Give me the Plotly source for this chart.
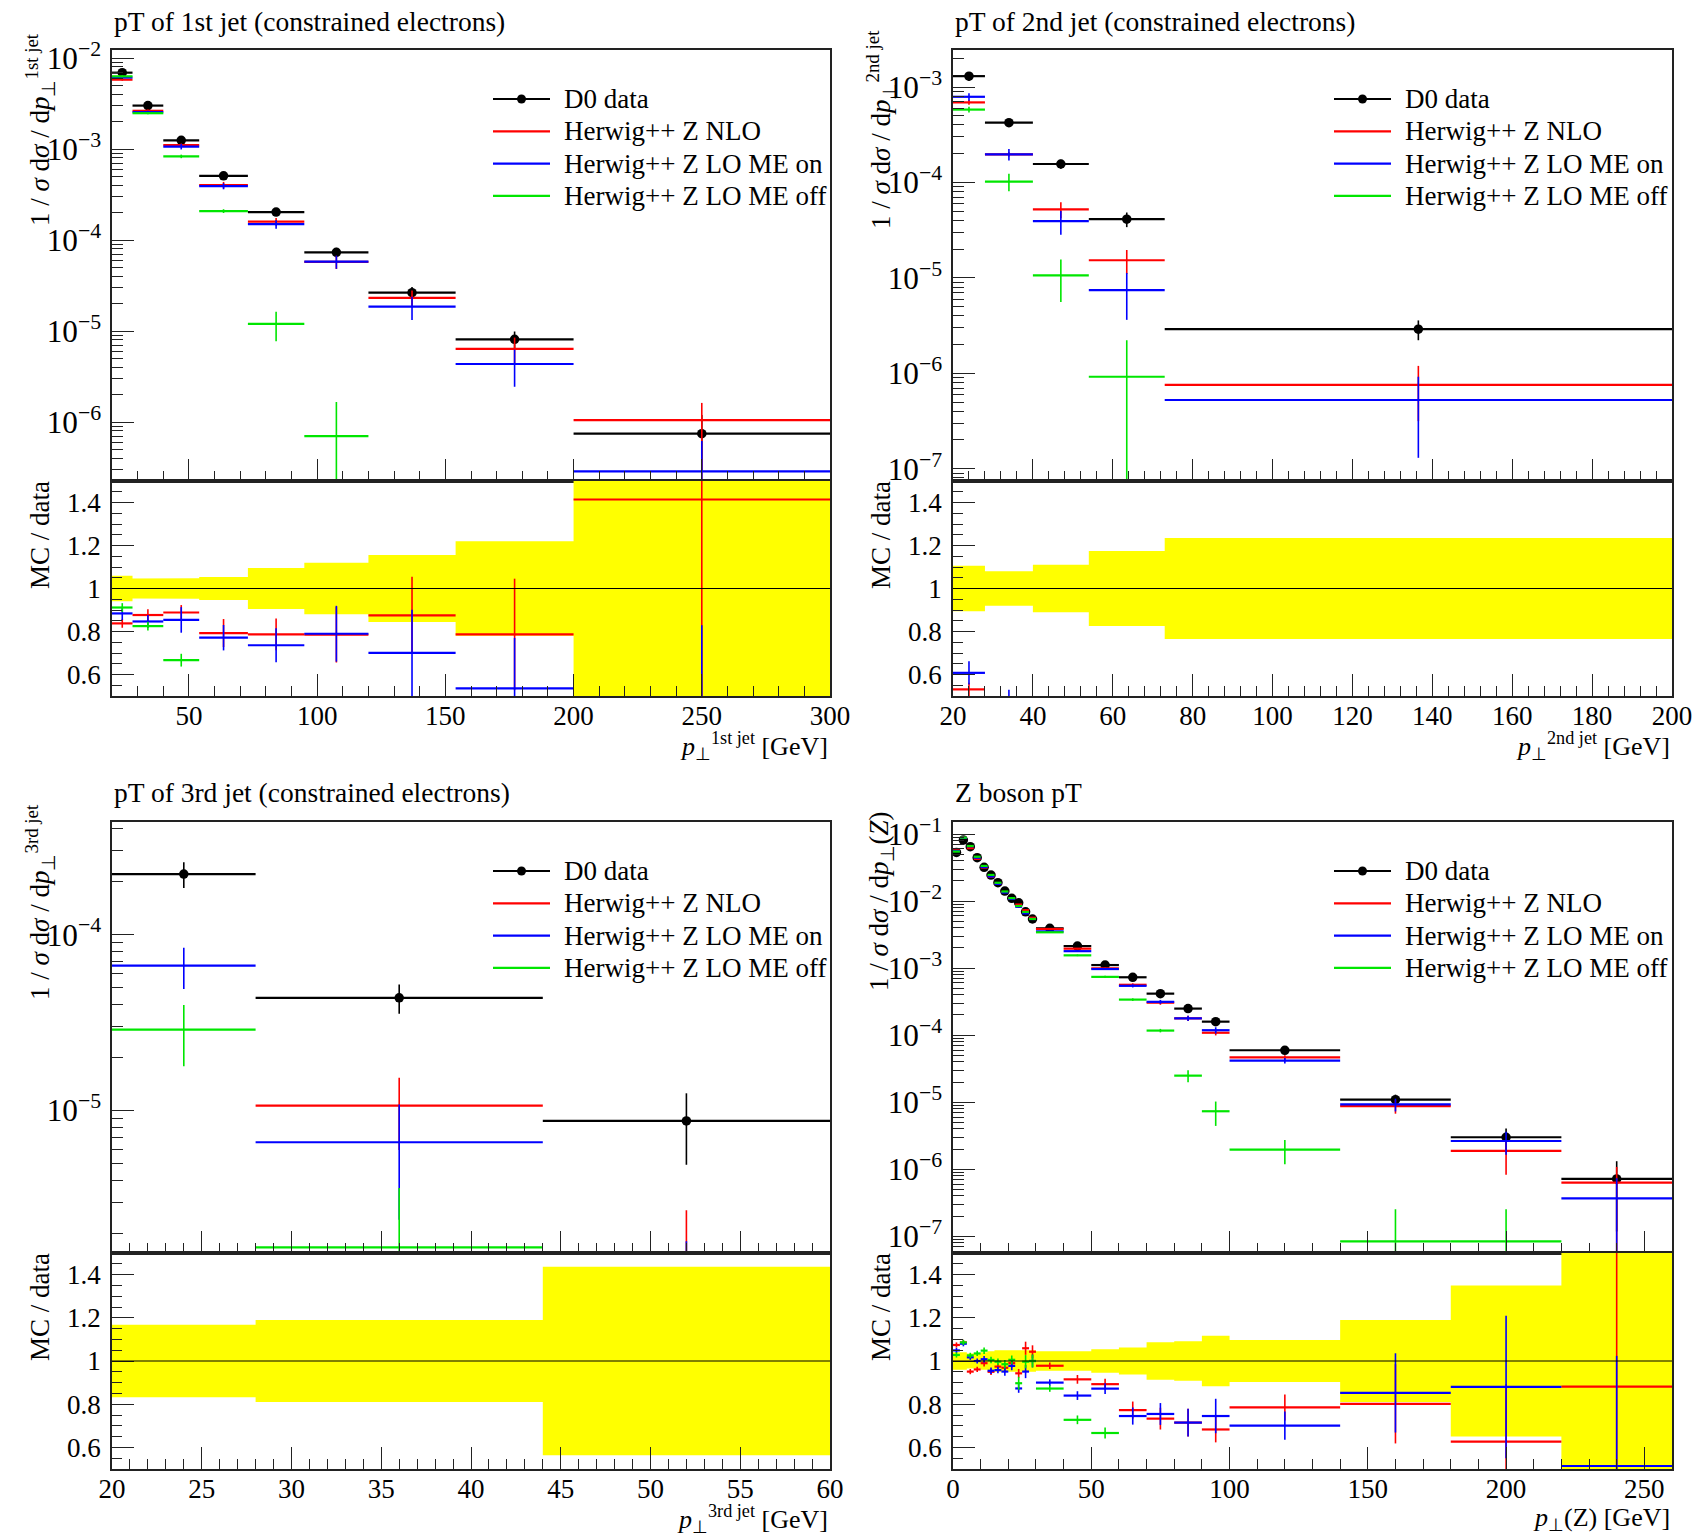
import numpy as np
import plotly.graph_objects as go

# ======================= data =======================
# --- pT of 1st jet ---
jet1_edges = [20, 28, 40, 54, 73, 95, 120, 154, 200, 300]
jet1_data = [6.9e-3, 3.0e-3, 1.245e-3, 5.07e-4, 2.03e-4, 7.32e-5, 2.64e-5, 8.1e-6, 7.44e-7]
jet1_data_err = [4.1e-4, 1.4e-4, 5.9e-5, 2.7e-5, 1.93e-5, 8.8e-6, 4.1e-6, 1.78e-6, 4.5e-7]
jet1_nlo = [5.78e-3, 2.63e-3, 1.106e-3, 4.02e-4, 1.596e-4, 5.75e-5, 2.31e-5, 6.37e-6, 1.052e-6]
jet1_nlo_err = [1.4e-4, 8e-5, 4.3e-5, 3.3e-5, 1.5e-5, 9.5e-6, 4.75e-6, 2.1e-6, 5.7e-7]
jet1_nlo_err_lo = [1.4e-4, 8e-5, 4.3e-5, 3.3e-5, 1.5e-5, 9.5e-6, 4.75e-6, 2.1e-6, 1.04e-6]
jet1_lo_on = [6.1e-3, 2.54e-3, 1.063e-3, 3.91e-4, 1.494e-4, 5.78e-5, 1.85e-5, 4.34e-6, 2.87e-7]
jet1_lo_on_err = [2.1e-4, 9e-5, 7.4e-5, 3e-5, 1.6e-5, 9.5e-6, 5.3e-6, 1.9e-6, 3.3e-7]
jet1_lo_off = [6.29e-3, 2.475e-3, 8.3e-4, 2.08e-4, 1.2e-5, 7.0e-7, None, None, None]
jet1_lo_off_err = [1.4e-4, 6e-5, 3.7e-5, 1.0e-5, 4.3e-6, 9.6e-7, None, None, None]

# --- pT of 2nd jet ---
jet2_edges = [20, 28, 40, 54, 73, 200]
jet2_data = [1.30e-3, 4.23e-4, 1.56e-4, 4.12e-5, 2.9e-6]
jet2_data_err = [1.37e-4, 3.4e-5, 1.72e-5, 7.2e-6, 6.8e-7]
jet2_nlo = [6.9e-4, 1.97e-4, 5.21e-5, 1.53e-5, 7.55e-7]
jet2_nlo_err = [4e-5, 1.0e-5, 1.0e-5, 4.3e-6, 4.4e-7]
jet2_lo_on = [7.9e-4, 1.97e-4, 3.93e-5, 7.43e-6, 5.25e-7]
jet2_lo_on_err = [7e-5, 2.7e-5, 1.1e-5, 3.8e-6, 3.95e-7]
jet2_lo_off = [5.8e-4, 1.02e-4, 1.06e-5, 9.2e-7, None]
jet2_lo_off_err = [4e-5, 2.1e-5, 5e-6, 1.3e-6, None]

# --- pT of 3rd jet ---
jet3_edges = [20, 28, 44, 60]
jet3_data = [2.21e-4, 4.37e-5, 8.7e-6]
jet3_data_err = [3.7e-5, 8.3e-6, 3.8e-6]
jet3_nlo = [None, 1.064e-5, 1.3e-6]
jet3_nlo_err = [None, 4.7e-6, 1.4e-6]
jet3_lo_on = [6.66e-5, 6.58e-6, 0.9e-6]
jet3_lo_on_err = [1.75e-5, 4.2e-6, 0.9e-6]
jet3_lo_off = [2.88e-5, 1.66e-6, None]
jet3_lo_off_err = [1.1e-5, 1.95e-6, None]

# --- Z boson pT ---
z_edges = [0, 2.5, 5, 7.5, 10, 12.5, 15, 17.5, 20, 22.5, 25, 27.5, 30,
           40, 50, 60, 70, 80, 90, 100, 140, 180, 220, 260]
z_data = [0.0532, 0.0813, 0.0646, 0.0443, 0.0319, 0.0244, 0.0188, 0.0141, 0.011, 0.0094, 0.0069, 0.0054,
          3.92e-3, 2.13e-3, 1.11e-3, 7.3e-4, 4.16e-4, 2.49e-4, 1.59e-4, 5.95e-5, 1.09e-5, 3.0e-6, 7.18e-7]
z_data_err = [2.13e-3, 3.25e-3, 2.26e-3, 1.55e-3, 1.28e-3, 1.1e-3, 9.4e-4, 7.05e-4, 5.5e-4, 4.7e-4, 3.45e-4, 2.7e-4,
              1.76e-4, 9.6e-5, 6.1e-5, 4.6e-5, 3.6e-5, 2.27e-5, 1.86e-5, 5.8e-6, 2.07e-6, 1.05e-6, 6.0e-7]
z_nlo = [0.05714, 0.08829, 0.06143, 0.04257, 0.03158, 0.02318, 0.01831, 0.01366, 0.01089, 0.008864, 0.007307, 0.005632,
         3.834e-3, 1.949e-3, 9.91e-4, 5.64e-4, 3.05e-4, 1.78e-4, 1.086e-4, 4.67e-5, 8.74e-6, 1.88e-6, 6.33e-7]
z_nlo_err = [6.4e-4, 9.8e-4, 7.8e-4, 5.3e-4, 4.8e-4, 3.7e-4, 2.8e-4, 2.8e-4, 2.2e-4, 1.9e-4, 2.1e-4, 1.6e-4,
             5.9e-5, 4.3e-5, 2.8e-5, 2.9e-5, 2.1e-5, 1.6e-5, 9.5e-6, 3.6e-6, 2.0e-6, 0.8e-6, 4.5e-7]
z_nlo_err_lo = [6.4e-4, 9.8e-4, 7.8e-4, 5.3e-4, 4.8e-4, 3.7e-4, 2.8e-4, 2.8e-4, 2.2e-4, 1.9e-4, 2.1e-4, 1.6e-4,
                5.9e-5, 4.3e-5, 2.8e-5, 2.9e-5, 2.1e-5, 1.6e-5, 9.5e-6, 3.6e-6, 2.0e-6, 1.05e-6, 6.2e-7]
z_lo_on = [0.05581, 0.0878, 0.0657, 0.0443, 0.03216, 0.0233, 0.01801, 0.01341, 0.01075, 0.008206, 0.006562, 0.0054,
           3.528e-3, 1.789e-3, 9.68e-4, 5.44e-4, 3.14e-4, 1.78e-4, 1.185e-4, 4.17e-5, 9.29e-6, 2.64e-6, 3.69e-7]
z_lo_on_err = [6.4e-4, 9.8e-4, 7.8e-4, 5.3e-4, 4.8e-4, 3.7e-4, 2.8e-4, 2.8e-4, 2.2e-4, 1.9e-4, 2.1e-4, 1.6e-4,
               5.9e-5, 4.3e-5, 2.8e-5, 2.9e-5, 2.1e-5, 1.6e-5, 1.27e-5, 3.9e-6, 2.0e-6, 9.9e-7, 3.66e-7]
z_lo_off = [0.05469, 0.08829, 0.06628, 0.04585, 0.03343, 0.02452, 0.01874, 0.01389, 0.01106, 0.008432, 0.006879, 0.0054,
            3.42e-3, 1.55e-3, 7.4e-4, 3.39e-4, 1.17e-4, 2.49e-5, 7.33e-6, 1.96e-6, 8.4e-8, 8.4e-8, None]
z_lo_off_err = [6.4e-4, 9.8e-4, 7.8e-4, 5.3e-4, 4.8e-4, 3.7e-4, 2.8e-4, 2.8e-4, 2.2e-4, 2.8e-4, 2.1e-4, 1.6e-4,
                5.9e-5, 4.3e-5, 2.8e-5, 1.5e-5, 7e-6, 5e-6, 2.9e-6, 7.7e-7, 1.7e-7, 1.7e-7, None]

legend_labels = ["D0 data", "Herwig++ Z NLO", "Herwig++ Z LO ME on", "Herwig++ Z LO ME off"]

# ======================= style =======================
W, H = 1693, 1537
FONT = "Liberation Serif"
C_DATA, C_NLO, C_ON, C_OFF = "#000000", "#ff0000", "#0000ff", "#00e600"
FRAME = "#222222"


def fx(p):
    return p / W


def fy(p):
    return 1 - p / H


panels = [
    dict(title="pT of 1st jet (constrained electrons)", left=112, right=830, top=50, mid=481, bot=696,
         edges=jet1_edges, data=jet1_data, derr=jet1_data_err,
         mc=[(jet1_nlo, jet1_nlo_err, jet1_nlo_err_lo, C_NLO),
             (jet1_lo_on, jet1_lo_on_err, jet1_lo_on_err, C_ON),
             (jet1_lo_off, jet1_lo_off_err, jet1_lo_off_err, C_OFF)],
         yrange=[-6.648, -1.912], xrange=[20, 300], dtick=50, tick0=0, minor=10,
         ytitle="1 / <i>σ</i> d<i>σ</i> / d<i>p</i><sub>⊥</sub><sup>1st jet</sup>",
         xtitle="<i>p</i><sub>⊥</sub><sup>1st jet</sup> [GeV]"),
    dict(title="pT of 2nd jet (constrained electrons)", left=953, right=1672, top=50, mid=481, bot=696,
         edges=jet2_edges, data=jet2_data, derr=jet2_data_err,
         mc=[(jet2_nlo, jet2_nlo_err, jet2_nlo_err, C_NLO),
             (jet2_lo_on, jet2_lo_on_err, jet2_lo_on_err, C_ON),
             (jet2_lo_off, jet2_lo_off_err, jet2_lo_off_err, C_OFF)],
         yrange=[-7.129, -2.612], xrange=[20, 200], dtick=20, tick0=0, minor=4,
         ytitle="1 / <i>σ</i> d<i>σ</i> / d<i>p</i><sub>⊥</sub><sup>2nd jet</sup>",
         xtitle="<i>p</i><sub>⊥</sub><sup>2nd jet</sup> [GeV]"),
    dict(title="pT of 3rd jet (constrained electrons)", left=112, right=830, top=822, mid=1253, bot=1469,
         edges=jet3_edges, data=jet3_data, derr=jet3_data_err,
         mc=[(jet3_nlo, jet3_nlo_err, jet3_nlo_err, C_NLO),
             (jet3_lo_on, jet3_lo_on_err, jet3_lo_on_err, C_ON),
             (jet3_lo_off, jet3_lo_off_err, jet3_lo_off_err, C_OFF)],
         yrange=[-5.812, -3.359], xrange=[20, 60], dtick=5, tick0=0, minor=1,
         ytitle="1 / <i>σ</i> d<i>σ</i> / d<i>p</i><sub>⊥</sub><sup>3rd jet</sup>",
         xtitle="<i>p</i><sub>⊥</sub><sup>3rd jet</sup> [GeV]"),
    dict(title="Z boson pT", left=953, right=1672, top=822, mid=1253, bot=1469,
         edges=z_edges, data=z_data, derr=z_data_err,
         mc=[(z_nlo, z_nlo_err, z_nlo_err_lo, C_NLO),
             (z_lo_on, z_lo_on_err, z_lo_on_err, C_ON),
             (z_lo_off, z_lo_off_err, z_lo_off_err, C_OFF)],
         yrange=[-7.249, -0.821], xrange=[0, 260], dtick=50, tick0=0, minor=10,
         ytitle="1 / <i>σ</i> d<i>σ</i> / d<i>p</i><sub>⊥</sub>(<i>Z</i>)",
         xtitle="<i>p</i><sub>⊥</sub>(Z) [GeV]"),
]


def ax_key(kind, n):
    return f"{kind}axis" if n == 1 else f"{kind}axis{n}"


def ax_ref(kind, n):
    return kind if n == 1 else f"{kind}{n}"


fig = go.Figure()
layout = dict(template="none", width=W, height=H, autosize=False,
              margin=dict(l=0, r=0, t=0, b=0, pad=0),
              paper_bgcolor="white", plot_bgcolor="white", showlegend=False,
              font=dict(family=FONT, size=25, color="black"))
shapes, annots = [], []

common_axis = dict(showline=True, mirror=True, linecolor=FRAME, linewidth=1.5, showgrid=False,
                   zeroline=False, ticks="inside", tickcolor=FRAME, tickwidth=1, automargin=False)

for i, P in enumerate(panels):
    m, r = 2 * i + 1, 2 * i + 2
    xdom = [fx(P["left"]), fx(P["right"])]
    mdom = [fy(P["mid"]), fy(P["top"])]
    rdom = [fy(P["bot"]), fy(P["mid"])]
    xcommon = dict(common_axis, range=P["xrange"], dtick=P["dtick"], tick0=P["tick0"], ticklen=22,
                   tickfont=dict(family=FONT, size=27, color="black"),
                   minor=dict(ticks="inside", dtick=P["minor"], ticklen=10, tickcolor=FRAME, showgrid=False))
    layout[ax_key("x", m)] = dict(xcommon, domain=xdom, anchor=ax_ref("y", m), showticklabels=False)
    layout[ax_key("x", r)] = dict(xcommon, domain=xdom, anchor=ax_ref("y", r), showticklabels=True,
                                  ticklabelstandoff=-5)
    layout[ax_key("y", m)] = dict(common_axis, domain=mdom, anchor=ax_ref("x", m), type="log",
                                  range=P["yrange"], dtick=1, exponentformat="power", showexponent="all",
                                  ticklen=22, ticklabelstandoff=4,
                                  tickfont=dict(family=FONT, size=25, color="black"),
                                  minor=dict(ticks="inside", dtick="D1", ticklen=11, tickcolor=FRAME,
                                             showgrid=False))
    layout[ax_key("y", r)] = dict(common_axis, domain=rdom, anchor=ax_ref("x", r), range=[0.5, 1.5],
                                  tickvals=[0.6, 0.8, 1.0, 1.2, 1.4], ticktext=["0.6", "0.8", "1", "1.2", "1.4"],
                                  ticklen=22, ticklabelstandoff=4,
                                  tickfont=dict(family=FONT, size=27, color="black"),
                                  minor=dict(ticks="inside", dtick=0.05, tick0=0, ticklen=10, tickcolor=FRAME,
                                             showgrid=False))

    edges = np.array(P["edges"], dtype=float)
    centers = list((edges[:-1] + edges[1:]) / 2)
    halfw = list((edges[1:] - edges[:-1]) / 2)
    data = P["data"]

    # ratio band (data uncertainty)
    bx, bu, bl = [], [], []
    for k in range(len(data)):
        rel = P["derr"][k] / data[k]
        bx += [edges[k], edges[k + 1]]
        bu += [1 + rel, 1 + rel]
        bl += [1 - rel, 1 - rel]
    fig.add_trace(go.Scatter(x=bx + bx[::-1], y=bu + bl[::-1], fill="toself", fillcolor="#ffff00",
                             mode="lines", line=dict(width=0, color="#ffff00"), hoverinfo="skip",
                             xaxis=ax_ref("x", r), yaxis=ax_ref("y", r)))
    shapes.append(dict(type="line", xref=ax_ref("x", r) + " domain", yref=ax_ref("y", r),
                       x0=0, x1=1, y0=1, y1=1, line=dict(color="black", width=1)))

    # main: data
    fig.add_trace(go.Scatter(x=centers, y=data, mode="markers",
                             marker=dict(size=9.5, color=C_DATA),
                             error_x=dict(type="data", array=halfw, width=0, thickness=2.2, color=C_DATA),
                             error_y=dict(type="data", array=P["derr"], width=0, thickness=1.6, color=C_DATA),
                             hoverinfo="skip", xaxis=ax_ref("x", m), yaxis=ax_ref("y", m)))
    # main + ratio: MC
    for vals, eh, el, col in P["mc"]:
        fig.add_trace(go.Scatter(x=centers, y=vals, mode="markers", marker=dict(size=1, color=col),
                                 error_x=dict(type="data", array=halfw, width=0, thickness=2.2, color=col),
                                 error_y=dict(type="data", array=eh, arrayminus=el, width=0,
                                              thickness=1.6, color=col),
                                 hoverinfo="skip", xaxis=ax_ref("x", m), yaxis=ax_ref("y", m)))
        rv = [None if v is None else v / d for v, d in zip(vals, data)]
        rh = [None if e is None else e / d for e, d in zip(eh, data)]
        rl = [None if e is None else e / d for e, d in zip(el, data)]
        fig.add_trace(go.Scatter(x=centers, y=rv, mode="markers", marker=dict(size=1, color=col),
                                 error_x=dict(type="data", array=halfw, width=0, thickness=2.2, color=col),
                                 error_y=dict(type="data", array=rh, arrayminus=rl, width=0,
                                              thickness=1.6, color=col),
                                 hoverinfo="skip", xaxis=ax_ref("x", r), yaxis=ax_ref("y", r)))

    # title
    annots.append(dict(text=P["title"], xref="paper", yref="paper", x=fx(P["left"]), y=fy(P["top"] - 29),
                       xanchor="left", yanchor="middle", showarrow=False, font=dict(size=27.5)))
    # axis titles
    annots.append(dict(text=P["ytitle"], xref="paper", yref="paper", x=fx(P["left"] - 72),
                       y=fy(P["top"] + 80), textangle=-90, xanchor="center", yanchor="middle",
                       showarrow=False, font=dict(size=27)))
    annots.append(dict(text="MC / data", xref="paper", yref="paper", x=fx(P["left"] - 72),
                       y=fy(P["mid"] + 54), textangle=-90, xanchor="center", yanchor="middle",
                       showarrow=False, font=dict(size=27)))
    annots.append(dict(text=P["xtitle"], xref="paper", yref="paper", x=fx(P["right"]),
                       y=fy(P["bot"] + 50), xanchor="right", yanchor="middle",
                       showarrow=False, font=dict(size=26)))

    # legend
    lx0, lx1, tx = P["left"] + 381, P["left"] + 438, P["left"] + 450
    for j, (lab, col) in enumerate(zip(legend_labels, [C_DATA, C_NLO, C_ON, C_OFF])):
        yy = P["top"] + 49 + 32.3 * j
        shapes.append(dict(type="line", xref="paper", yref="paper", x0=fx(lx0), x1=fx(lx1),
                           y0=fy(yy), y1=fy(yy), line=dict(color=col, width=2.2)))
        if j == 0:
            cx = (lx0 + lx1) / 2
            shapes.append(dict(type="circle", xref="paper", yref="paper", x0=fx(cx - 4.5), x1=fx(cx + 4.5),
                               y0=fy(yy - 4.5), y1=fy(yy + 4.5), fillcolor=C_DATA, line=dict(width=0)))
        annots.append(dict(text=lab, xref="paper", yref="paper", x=fx(tx), y=fy(yy),
                           xanchor="left", yanchor="middle", showarrow=False, font=dict(size=27)))

layout["shapes"] = shapes
layout["annotations"] = annots
fig.update_layout(**layout)
fig.write_html("out.html", config={"responsive": False},
               post_script="document.body.style.margin='0';document.body.style.padding='0';"
                           "document.body.style.overflow='hidden';")
